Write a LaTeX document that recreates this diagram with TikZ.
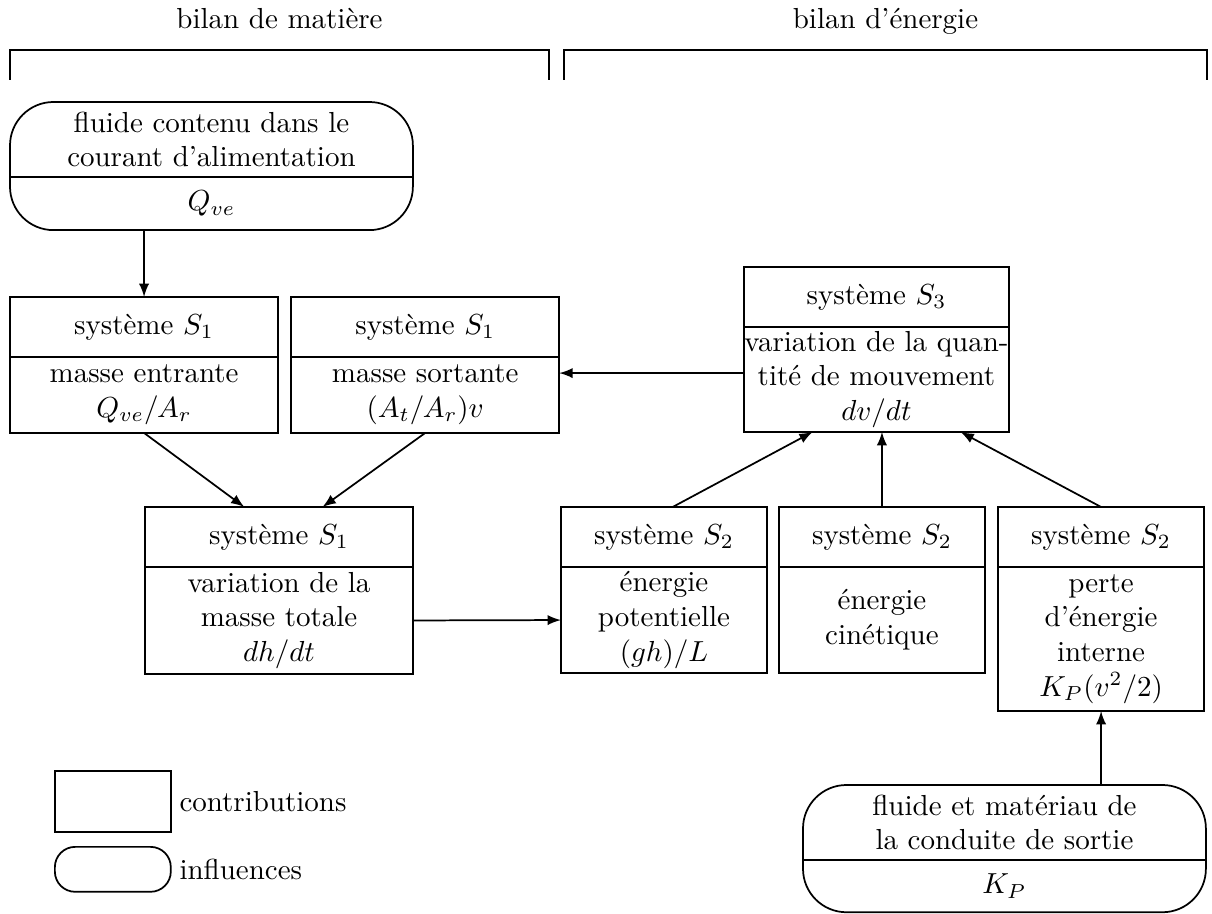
\documentclass[tikz,border=0pt]{standalone}
\usepackage{amsmath}
\usepackage{tikz}
\usetikzlibrary{positioning}
\tikzset{basic/.style={draw,inner sep=0pt,outer sep=0pt,align=center}}
\tikzset{head/.style={basic,minimum height=20.7pt}}
\tikzset{body/.style={basic}}
\tikzset{wide/.style={minimum width=92.5pt}}
\tikzset{mid/.style={minimum width=91.4pt}}
\tikzset{narrow/.style={minimum width=71.1pt}}
\tikzset{influence/.style={inner sep=0pt,outer sep=0pt,align=center,minimum width=139pt}}

\begin{document}
\begin{tikzpicture}[x=0.345pt,y=-0.345pt,line width=0.6pt,>=latex]
    \useasboundingbox (0,0) rectangle (1212,914);

    \node[anchor=base] (tmat) at (279.5,29) {bilan de matière};
    \node[anchor=base] (tener) at (885.5,29) {bilan d'énergie};
    \draw (10,80) -- (10,50) -- (549,50) -- (549,80);
    \draw (564,80) -- (564,50) -- (1207,50) -- (1207,80);

    \node[influence,minimum height=25.9pt,anchor=north west] (feed) at (10,102) {fluide contenu dans le\\courant d'alimentation};
    \node[influence,minimum height=18.3pt,below=0pt of feed] (feedq) {$Q_{ve}$};
        \draw[rounded corners=15pt] (feed.north west) rectangle (feedq.south east);
        \draw (feedq.north west) -- (feedq.north east);

    \node[head,wide,anchor=north west] (hdin) at (10,297) {système $S_1$};
    \node[body,wide,minimum height=26.2pt,below=0pt of hdin] (in) {masse entrante\\$Q_{ve}/A_r$};
        \path[draw,->] (hdin.north |- feedq.south) -- (hdin);
    \node[head,wide,right=4.5pt of hdin] (hdout) {système $S_1$};
    \node[body,wide,minimum height=26.2pt,below=0pt of hdout] (out) {masse sortante\\$(A_t/A_r)v$};

    \node[head,wide,anchor=north west] (hdtot) at (145,507) {système $S_1$};
    \node[body,wide,minimum height=36.9pt,below=0pt of hdtot] (tot) {variation de la\\masse totale\\$dh/dt$};
        \path[draw,->] (in.south) -- ([xshift=-12pt]hdtot.north);
        \path[draw,->] (out.south) -- ([xshift=15pt]hdtot.north);

    \node[head,mid,anchor=north west] (hdmom) at (744,267) {système $S_3$};
    \node[body,mid,minimum height=36.2pt,below=0pt of hdmom] (mom) {variation de la quan-\\tité de mouvement\\$dv/dt$};
        \path[draw,->] ([yshift=2.2pt]mom.west) -- ([yshift=2.2pt]mom.west -| out.east);

    \node[head,narrow,right=51pt of hdtot] (hdpot) {système $S_2$};
    \node[body,narrow,minimum height=36.6pt,below=0pt of hdpot] (pot) {énergie\\potentielle\\$(gh)/L$};
        \path[draw,->] (tot.east) -- (pot.west);
    \node[head,narrow,right=4.1pt of hdpot] (hdkin) {système $S_2$};
    \node[body,narrow,minimum height=36.6pt,below=0pt of hdkin] (kin) {énergie\\cinétique};
    \node[head,narrow,right=4.5pt of hdkin] (hdloss) {système $S_2$};
    \node[body,narrow,minimum height=49.7pt,below=0pt of hdloss] (loss) {perte\\d'énergie\\interne\\$K_P(v^2/2)$};
        \path[draw,->] ([xshift=3pt]hdpot.north) -- ([xshift=-22pt]mom.south);
        \path[draw,->] (hdkin.north) -- (hdkin.north |- mom.south);
        \path[draw,->] (hdloss.north) -- ([xshift=29pt]mom.south);

    \node[influence,minimum height=25.9pt,anchor=north west] (pipe) at (803,785) {fluide et matériau de\\la conduite de sortie};
    \node[influence,minimum height=18pt,below=0pt of pipe] (pipek) {$K_P$};
        \draw[rounded corners=15pt] (pipe.north west) rectangle (pipek.south east);
        \draw (pipek.north west) -- (pipek.north east);
        \path[draw,->] (loss.south |- pipe.north) -- (loss);

    \node[draw,inner sep=0pt,minimum width=40pt,minimum height=21pt,anchor=north west] (legc) at (54,770) {};
    \node[inner sep=0pt,right=2.4pt of legc] (legctext) {contributions};
    \node[draw,rounded corners=7pt,inner sep=0pt,minimum width=40pt,minimum height=15.5pt,anchor=north west] (legi) at (54,846) {};
    \node[inner sep=0pt,right=2.4pt of legi] (legitext) {influences};
\end{tikzpicture}
\end{document}
